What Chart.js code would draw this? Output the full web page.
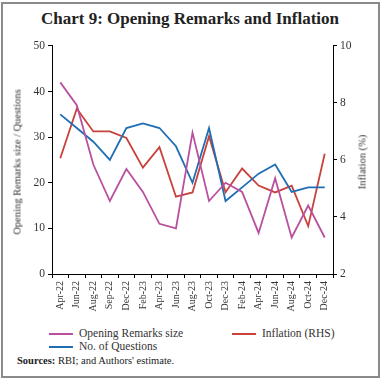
<!DOCTYPE html>
<html>
<head>
<meta charset="utf-8">
<script src="https://cdn.jsdelivr.net/npm/chart.js@4"></script>
<style>
  body { margin:0; background:#fff; font-family:"Liberation Serif", serif; }
  #frame { position:absolute; left:1px; top:2px; width:375px; height:372px; border:2px solid #8a8a8a; }
  #titulo { position:absolute; left:0; top:9px; width:380px; text-align:center; font-weight:bold; font-size:17px; color:#222; }
  #grafico { position:absolute; left:0; top:36px; width:380px; height:282px; }
  .ejey { position:absolute; font-size:10.5px; color:#333; white-space:nowrap; transform:translate(-50%,-50%) rotate(-90deg); }
  .ley { position:absolute; font-size:11.5px; color:#333; white-space:nowrap; }
  .ley span { display:inline-block; width:24px; height:2px; vertical-align:middle; margin-right:6px; }
  #fuente { position:absolute; left:17px; top:355px; font-size:10.5px; color:#222; }
</style>
</head>
<body>
<div id="frame"></div>
<div id="titulo">Chart 9: Opening Remarks and Inflation</div>
<div id="grafico"><canvas id="myChart"></canvas></div>
<div class="ejey" style="left:17px; top:162px;">Opening Remarks size / Questions</div>
<div class="ejey" style="left:362px; top:162px;">Inflation (%)</div>
<div class="ley" style="left:49px; top:327px;"><span style="background:#b9509f"></span>Opening Remarks size</div>
<div class="ley" style="left:232px; top:327px;"><span style="background:#c8413b"></span>Inflation (RHS)</div>
<div class="ley" style="left:49px; top:340px;"><span style="background:#1f6db3"></span>No. of Questions</div>
<div id="fuente"><b>Sources:</b> RBI; and Authors' estimate.</div>
<script>
const meses = ["Apr-22","Jun-22","Aug-22","Sep-22","Dec-22","Feb-23","Apr-23","Jun-23","Aug-23","Oct-23","Dec-23","Feb-24","Apr-24","Jun-24","Aug-24","Oct-24","Dec-24"];
const remarks = [42,37,24,16,23,18,11,10,31,16,20,18,9,21,8,15,8];
const preguntas = [35,32,29,25,32,33,32,28,20,32,16,19,22,24,18,19,19];
const inflacion = [6.06,7.8,7.0,7.0,6.77,5.73,6.45,4.71,4.86,6.83,4.87,5.70,5.10,4.86,5.10,3.68,6.22];

const fuenteEje = { family:"Liberation Serif", size:11.5 };
const fuenteX = { family:"Liberation Serif", size:10 };

const ctx = document.getElementById('myChart').getContext("2d");
const myChart = new Chart(ctx,{
  type:"line",
  data:{
    labels:meses,
    datasets:[
      { label:"Opening Remarks size", data:remarks, borderColor:"#b9509f", borderWidth:1.8, pointRadius:0, yAxisID:"y", tension:0 },
      { label:"No. of Questions", data:preguntas, borderColor:"#1f6db3", borderWidth:1.8, pointRadius:0, yAxisID:"y", tension:0 },
      { label:"Inflation (RHS)", data:inflacion, borderColor:"#c8413b", borderWidth:1.8, pointRadius:0, yAxisID:"y2", tension:0 }
    ]
  },
  options:{
    responsive:true,
    maintainAspectRatio:false,
    animation:false,
    layout:{ padding:{ top:9, left:0, right:0, bottom:0 } },
    plugins:{ legend:{ display:false }, tooltip:{ enabled:false } },
    scales:{
      x:{
        offset:true,
        grid:{ offset:true, drawOnChartArea:false, drawTicks:true, tickLength:4, color:"#000" },
        border:{ color:"#000", width:1 },
        ticks:{ color:"#333", font:fuenteX, maxRotation:90, minRotation:90, padding:3, autoSkip:false },
        afterFit:function(s){ s.height = 44; }
      },
      y:{
        position:"left", min:0, max:50,
        grid:{ drawOnChartArea:false, tickLength:4, color:"#000" },
        border:{ color:"#000", width:1 },
        ticks:{ stepSize:10, color:"#333", font:fuenteEje, padding:3 },
        afterFit:function(s){ s.width = 52; }
      },
      y2:{
        position:"right", min:2, max:10,
        grid:{ drawOnChartArea:false, tickLength:4, color:"#000" },
        border:{ color:"#000", width:1 },
        ticks:{ stepSize:2, color:"#333", font:fuenteEje, padding:3 },
        afterFit:function(s){ s.width = 47; }
      }
    }
  }
});
</script>
</body>
</html>
